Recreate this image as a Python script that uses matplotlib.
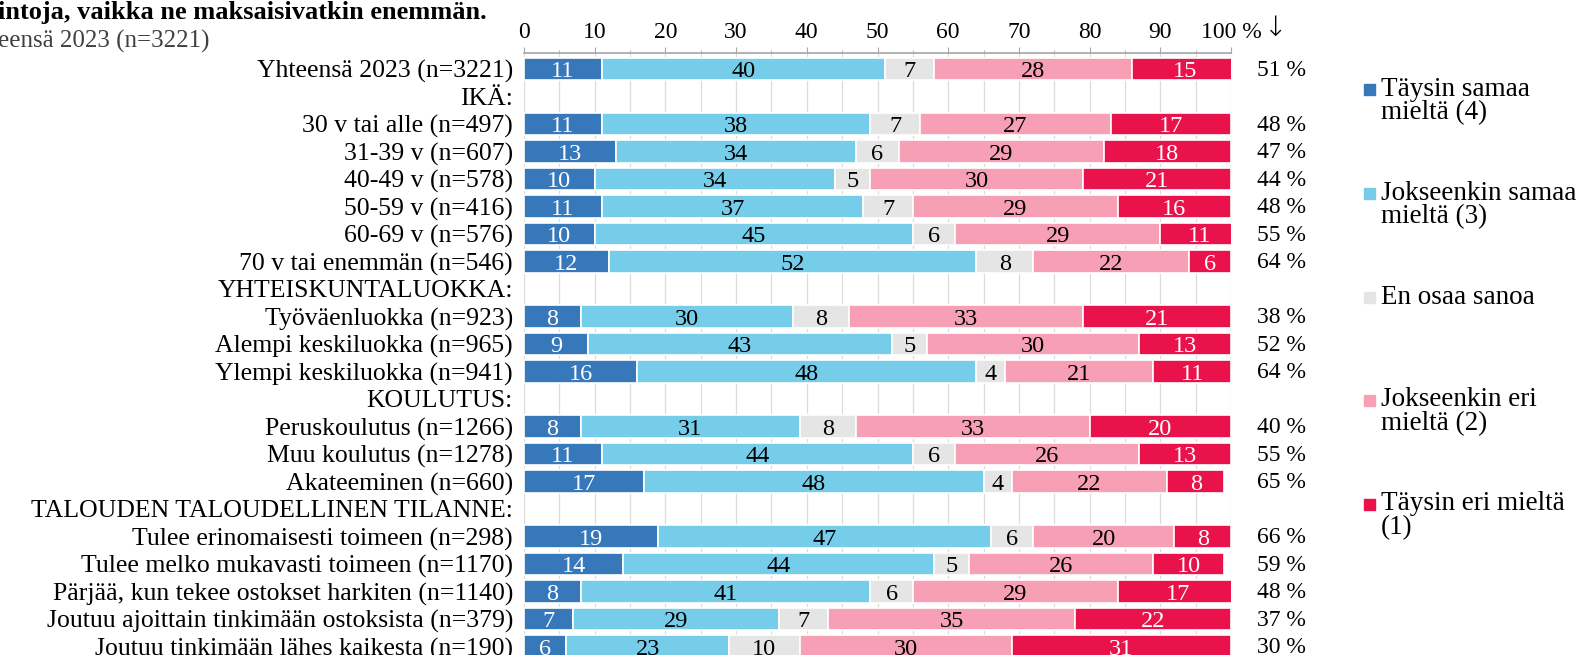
import matplotlib
matplotlib.use("Agg")
import matplotlib.pyplot as plt
import numpy as np

categories = [
    "Yhteensä 2023 (n=3221)", "IKÄ:",
    "30 v tai alle (n=497)", "31-39 v (n=607)", "40-49 v (n=578)",
    "50-59 v (n=416)", "60-69 v (n=576)", "70 v tai enemmän (n=546)",
    "YHTEISKUNTALUOKKA:",
    "Työväenluokka (n=923)", "Alempi keskiluokka (n=965)", "Ylempi keskiluokka (n=941)",
    "KOULUTUS:",
    "Peruskoulutus (n=1266)", "Muu koulutus (n=1278)", "Akateeminen (n=660)",
    "TALOUDEN TALOUDELLINEN TILANNE:",
    "Tulee erinomaisesti toimeen (n=298)", "Tulee melko mukavasti toimeen (n=1170)",
    "Pärjää, kun tekee ostokset harkiten (n=1140)",
    "Joutuu ajoittain tinkimään ostoksista (n=379)",
    "Joutuu tinkimään lähes kaikesta (n=190)",
]
N = None
taysin_samaa = [11, N, 11, 13, 10, 11, 10, 12, N, 8, 9, 16, N, 8, 11, 17, N, 19, 14, 8, 7, 6]
jokseenkin_samaa = [40, N, 38, 34, 34, 37, 45, 52, N, 30, 43, 48, N, 31, 44, 48, N, 47, 44, 41, 29, 23]
en_osaa = [7, N, 7, 6, 5, 7, 6, 8, N, 8, 5, 4, N, 8, 6, 4, N, 6, 5, 6, 7, 10]
jokseenkin_eri = [28, N, 27, 29, 30, 29, 29, 22, N, 33, 30, 21, N, 33, 26, 22, N, 20, 26, 29, 35, 30]
taysin_eri = [15, N, 17, 18, 21, 16, 11, 6, N, 21, 13, 11, N, 20, 13, 8, N, 8, 10, 17, 22, 31]
samaa_yht = [51, N, 48, 47, 44, 48, 55, 64, N, 38, 52, 64, N, 40, 55, 65, N, 66, 59, 48, 37, 30]

series_names = [["Täysin samaa", "mieltä (4)"], ["Jokseenkin samaa", "mieltä (3)"],
                ["En osaa sanoa"], ["Jokseenkin eri", "mieltä (2)"],
                ["Täysin eri mieltä", "(1)"]]
series = [taysin_samaa, jokseenkin_samaa, en_osaa, jokseenkin_eri, taysin_eri]
colors = ["#3778BB", "#75CDEA", "#E5E5E5", "#F7A0B5", "#EA124B"]
text_colors = ["white", "black", "black", "black", "white"]
xticks = [0, 10, 20, 30, 40, 50, 60, 70, 80, 90, 100]
xticklabels = ["0", "10", "20", "30", "40", "50", "60", "70", "80", "90", "100 %"]

FONT = "Liberation Serif"
plt.rcParams["font.family"] = FONT

W, H = 1589, 655
fig = plt.figure(figsize=(W / 100, H / 100), dpi=100)
x0, x1 = 524, 1231
ytop = 52.7
ax = fig.add_axes([x0 / W, 0, (x1 - x0) / W, 1 - ytop / H])

y = np.arange(len(categories))
for si, vals in enumerate(series):
    for i, v in enumerate(vals):
        if v is None:
            continue
        left = sum(s[i] for s in series[:si])
        ax.barh(y[i], v, left=left, height=0.81, color=colors[si],
                edgecolor="white", linewidth=1.2, zorder=3)
        ax.text(left + v / 2, y[i] + 0.1, str(v), ha="center", va="center",
                color=text_colors[si], fontsize=17.5, zorder=4)

for i, s in enumerate(samaa_yht):
    if s is None:
        continue
    ax.text(1.037, y[i] + 0.05, f"{s} %", transform=ax.get_yaxis_transform(),
            ha="left", va="center", fontsize=17, color="black")

ax.set_xlim(0, 100)
ax.set_ylim(21.31, -0.59)
ax.set_yticks(y)
ax.set_yticklabels(categories, fontsize=18.5)
ax.tick_params(axis="y", length=0, pad=8)
ax.xaxis.tick_top()
ax.set_xticks(xticks)
ax.set_xticklabels(xticklabels, fontsize=17)
ax.set_xticks(np.arange(5, 100, 10), minor=True)
ax.tick_params(axis="x", which="major", length=4, color="#A6A6A6", pad=3)
ax.tick_params(axis="x", which="minor", length=2.5, color="#A6A6A6", top=True)
ax.grid(axis="x", which="both", color="#DCDCDC", linewidth=0.9, zorder=0)
for sp in ["left", "right", "bottom"]:
    ax.spines[sp].set_visible(False)
ax.spines["top"].set_color("#A6A6A6")
ax.spines["top"].set_linewidth(1.2)
ax.set_axisbelow(True)

fig.text(1276 / W, 1 - 28 / H, "↓", ha="center", va="center", fontsize=20,
         family=["DejaVu Sans"], color="black", fontweight="light")

fig.text(-2 / W, 1 - 12 / H, "intoja, vaikka ne maksaisivatkin enemmän.", ha="left",
         va="center", fontsize=19, fontweight="bold")
fig.text(-2 / W, 1 - 41 / H, "eensä 2023 (n=3221)", ha="left", va="center",
         fontsize=18, color="#404040")

leg_first = [89, 193, 297, 400, 504]
for lines, c, ly in zip(series_names, colors, leg_first):
    fig.patches.append(plt.Rectangle((1364 / W, 1 - (ly + 6) / H), 11 / W, 11 / H,
                                     transform=fig.transFigure, color=c))
    for k, line in enumerate(lines):
        fig.text(1381 / W, 1 - (ly + k * 24) / H, line, ha="left", va="center",
                 fontsize=19.5)

fig.savefig("out.png", dpi=100)
